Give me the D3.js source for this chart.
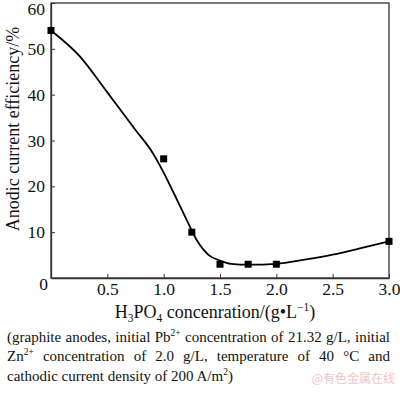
<!DOCTYPE html>
<html>
<head>
<meta charset="utf-8">
<script src="https://cdn.jsdelivr.net/npm/d3@7"></script>
<style>
  body { margin: 0; background: #fff; }
</style>
</head>
<body>
<div id="chart"></div>
<script>
document.addEventListener("DOMContentLoaded", runD3)

// measured points
var pointX = [0, 1.0, 1.25, 1.5, 1.75, 2.0, 3.0]
var pointY = [54, 26, 10, 3, 3, 3, 8]

// fitted curve
var curveX = [0, 0.25, 0.5, 0.75, 0.9, 1.0, 1.1, 1.2, 1.3, 1.4, 1.5, 1.6, 1.75, 2.0, 2.25, 2.5, 2.75, 3.0]
var curveY = [54, 48.5, 40.5, 32.3, 27.4, 23, 18, 12.9, 8, 5, 3.8, 3.1, 2.9, 3.1, 4, 5.1, 6.5, 8]

var xTicks = [0.5, 1.0, 1.5, 2.0, 2.5, 3.0]
var yTicks = [10, 20, 30, 40, 50, 60]

// caption lines: [text, superscript] pieces, and whether the line is justified
var captionLines = [
  [[["(graphite anodes, initial Pb", "2+"], [" concentration of 21.32 g/L, initial", ""]], true],
  [[["Zn", "2+"], [" concentration of 2.0 g/L, temperature of 40 \u00b0C and", ""]], true],
  [[["cathodic current density of 200 A/m", "2"], [")", ""]], false]
]

function runD3(){
  var width = 400,
      height = 393,
      left = 51, right = 389, top = 3, bottom = 278

  var font = '"Liberation Serif", "Times New Roman", serif'

  var x = d3.scaleLinear().domain([0, 3]).range([left, right])
  var y = d3.scaleLinear().domain([0, 60]).range([bottom, top])

  const svg = d3.select("#chart").append("svg")
    .attr("width", width)
    .attr("height", height)

  // frame
  svg.append("rect")
    .attr("x", left).attr("y", top)
    .attr("width", right - left).attr("height", bottom - top)
    .attr("fill", "none").attr("stroke", "#333").attr("stroke-width", 1.3)

  svg.append("g")
    .attr("transform", `translate(0,${bottom})`)
    .attr("font-family", font).attr("font-size", 17.5)
    .call(d3.axisBottom(x).tickValues(xTicks).tickFormat(d3.format(".1f"))
      .tickSizeInner(-4).tickSizeOuter(0).tickPadding(5))
  const yAxis = svg.append("g")
    .attr("transform", `translate(${left},0)`)
    .attr("font-family", font).attr("font-size", 17.5)
    .call(d3.axisLeft(y).tickValues(yTicks).tickFormat(d3.format("d"))
      .tickSizeInner(-4).tickSizeOuter(0).tickPadding(6))

  svg.selectAll(".domain").attr("stroke", "#333").attr("stroke-width", 1.3)
  svg.selectAll(".tick line").attr("stroke", "#333")
  svg.selectAll(".tick text").attr("font-family", font).attr("font-size", 17.5).attr("fill", "#111")
  // top label sits a little lower so it stays inside the picture
  yAxis.selectAll(".tick text").filter(function(d){ return d === 60 }).attr("dy", "0.66em")

  // origin label
  svg.append("text")
    .attr("x", x(0) - 7.5).attr("y", y(0) + 12)
    .attr("text-anchor", "middle")
    .attr("font-family", font).attr("font-size", 17.5).attr("fill", "#111")
    .text("0")

  // fitted curve
  const line = d3.line()
    .x(function(d){ return x(d[0]) })
    .y(function(d){ return y(d[1]) })
    .curve(d3.curveMonotoneX)
  svg.append("path")
    .datum(d3.zip(curveX, curveY))
    .attr("d", line)
    .attr("fill", "none").attr("stroke", "#000").attr("stroke-width", 1.8)

  // points
  svg.append("g").selectAll("rect")
    .data(d3.zip(pointX, pointY))
    .enter()
    .append("rect")
    .attr("x", function(d){ return x(d[0]) - 3.5 })
    .attr("y", function(d){ return y(d[1]) - 3.5 })
    .attr("width", 7).attr("height", 7)
    .attr("fill", "#000")

  // axis titles
  const xt = svg.append("text")
    .attr("x", 215).attr("y", 318)
    .attr("text-anchor", "middle")
    .attr("font-family", font).attr("font-size", 18).attr("fill", "#111")
  xt.append("tspan").text("H")
  xt.append("tspan").attr("font-size", 11.5).attr("dy", 4).text("3")
  xt.append("tspan").attr("dy", -4).text("PO")
  xt.append("tspan").attr("font-size", 11.5).attr("dy", 4).text("4")
  xt.append("tspan").attr("dy", -4).text(" concenration/(g\u2022L")
  xt.append("tspan").attr("font-size", 11.5).attr("dy", -7).text("\u22121")
  xt.append("tspan").attr("dy", 7).text(")")

  svg.append("text")
    .attr("transform", `translate(19,129) rotate(-90)`)
    .attr("text-anchor", "middle")
    .attr("font-family", font).attr("font-size", 18).attr("fill", "#111")
    .text("Anodic current efficiency/%")

  // caption, justified to the plot width
  var capLeft = 7, capWidth = 383
  captionLines.forEach(function(ln, i){
    const t = svg.append("text")
      .attr("x", capLeft).attr("y", 341.5 + i * 19.5)
      .attr("font-family", font).attr("font-size", 15).attr("fill", "#111")
    var raised = false
    ln[0].forEach(function(p){
      t.append("tspan").attr("dy", raised ? 6 : 0).text(p[0])
      raised = false
      if (p[1]) {
        t.append("tspan").attr("font-size", 9.5).attr("dy", -6).text(p[1])
        raised = true
      }
    })
    if (ln[1]) {
      var natural = t.node().getComputedTextLength()
      var spaces = ln[0].map(function(p){ return p[0] }).join("").split(" ").length - 1
      t.style("word-spacing", ((capWidth - natural) / spaces) + "px")
    }
  })

  // watermark
  svg.append("text")
    .attr("x", 395).attr("y", 383)
    .attr("text-anchor", "end")
    .attr("font-family", '"Noto Sans CJK SC", sans-serif').attr("font-size", 12)
    .attr("fill", "#f2c4c4")
    .text("@有色金属在线")
}
</script>
</body>
</html>
